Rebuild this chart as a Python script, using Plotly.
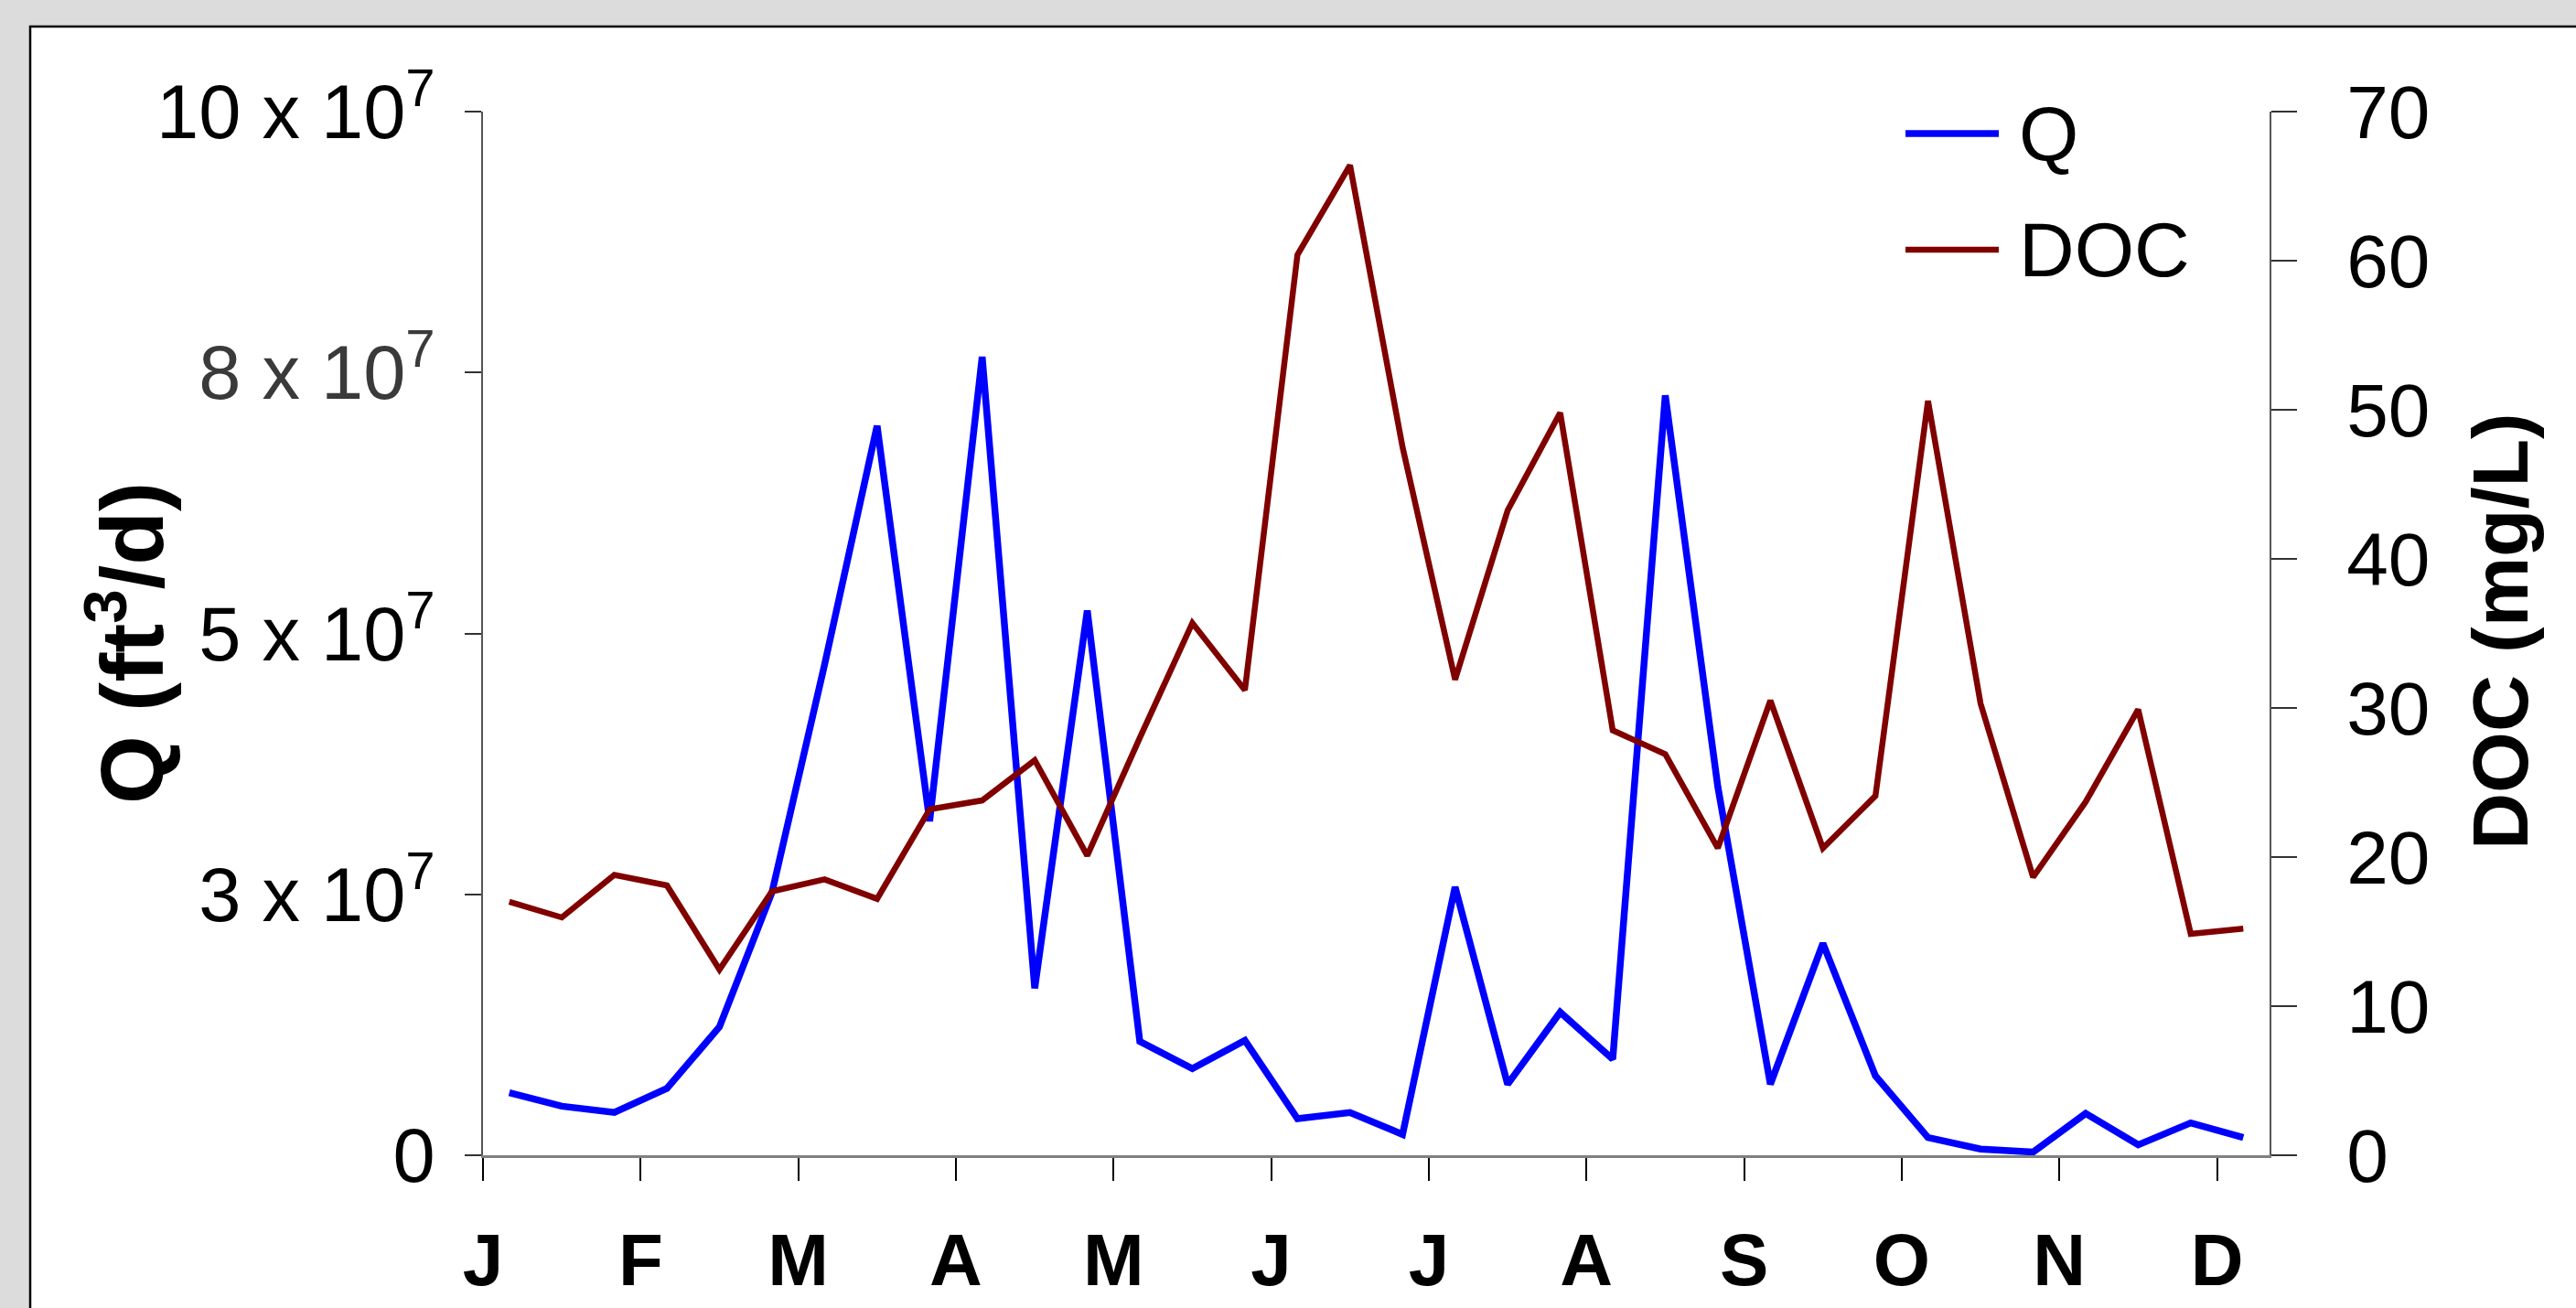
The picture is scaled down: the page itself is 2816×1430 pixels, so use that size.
import plotly.graph_objects as go

# ---- data (sampled every ~10 days: 3 per month, Jan dekad 1 .. Dec dekad 1) ----
dekad = list(range(1, 35))
q_values = [6.0e6, 4.7e6, 4.1e6, 6.4e6, 12.3e6, 25.2e6, 47.0e6, 69.9e6, 32.0e6, 76.5e6,
            16.0e6, 52.2e6, 10.9e6, 8.3e6, 11.0e6, 3.5e6, 4.1e6, 2.0e6, 25.7e6, 6.8e6,
            13.7e6, 9.2e6, 72.8e6, 35.3e6, 6.8e6, 20.3e6, 7.6e6, 1.7e6, 0.6e6, 0.3e6,
            4.0e6, 1.0e6, 3.1e6, 1.7e6]
doc_values = [17.0, 15.95, 18.8, 18.1, 12.45, 17.7, 18.5, 17.2, 23.2, 23.8,
              26.5, 20.1, 28.0, 35.7, 31.2, 60.4, 66.4, 47.5, 31.9, 43.25,
              49.8, 28.5, 26.9, 20.6, 30.5, 20.6, 24.1, 50.6, 30.3, 18.65,
              23.7, 29.9, 14.85, 15.2]
month_labels = ["J", "F", "M", "A", "M", "J", "J", "A", "S", "O", "N", "D"]
month_start_dekad = [3 * i for i in range(12)]
q_tick_values = [0, 2.5e7, 5e7, 7.5e7, 1e8]
q_tick_labels = ["0", "3 x 10<sup>7</sup>", "5 x 10<sup>7</sup>",
                 '<span style="color:#3a3a3a">8 x 10<sup>7</sup></span>', "10 x 10<sup>7</sup>"]

Q_COLOR = "#0000FF"
DOC_COLOR = "#800000"
Q_WIDTH = 7.5
DOC_WIDTH = 6.5
FONT = "Liberation Sans, Arial, sans-serif"

x_mid = [d - 0.5 for d in dekad]  # centre of each 10-day period

fig = go.Figure()
fig.add_trace(go.Scatter(x=x_mid, y=q_values, mode="lines", name="Q",
                         line=dict(color=Q_COLOR, width=Q_WIDTH), yaxis="y"))
fig.add_trace(go.Scatter(x=x_mid, y=doc_values, mode="lines", name="DOC",
                         line=dict(color=DOC_COLOR, width=DOC_WIDTH), yaxis="y2"))

W, H = 2816, 1430
L, R, T, B = 528, 2816 - 2481, 122, 1430 - 1263
pw, ph = W - L - R, H - T - B

def px(x):
    return (x - L) / pw

def py(y):
    return (H - B - y) / ph

shapes = [
    dict(type="rect", xref="paper", yref="paper", x0=px(33), x1=px(2840), y0=py(1450), y1=py(29),
         fillcolor="white", line=dict(color="black", width=2.5), layer="below"),
    dict(type="line", xref="paper", yref="paper", x0=px(2083), x1=px(2185), y0=py(146), y1=py(146),
         line=dict(color=Q_COLOR, width=Q_WIDTH)),
    dict(type="line", xref="paper", yref="paper", x0=px(2083), x1=px(2185), y0=py(273), y1=py(273),
         line=dict(color=DOC_COLOR, width=DOC_WIDTH)),
]

annotations = [
    dict(text="<b>Q (ft<sup>3</sup>/d)</b>", xref="paper", yref="paper", x=px(138), y=py(703),
         textangle=-90, showarrow=False, xanchor="center", yanchor="middle",
         font=dict(family=FONT, size=96, color="black")),
    dict(text="<b>DOC (mg/L)</b>", xref="paper", yref="paper", x=px(2733), y=py(690),
         textangle=-90, showarrow=False, xanchor="center", yanchor="middle",
         font=dict(family=FONT, size=86, color="black")),
    dict(text="Q", xref="paper", yref="paper", x=px(2205), y=py(146), showarrow=False,
         xanchor="left", yanchor="middle", font=dict(family=FONT, size=84, color="black")),
    dict(text="DOC", xref="paper", yref="paper", x=px(2205), y=py(273), showarrow=False,
         xanchor="left", yanchor="middle", font=dict(family=FONT, size=84, color="black")),
]

fig.update_layout(
    width=W, height=H,
    margin=dict(l=L, r=R, t=T, b=B, autoexpand=False),
    paper_bgcolor="#DCDCDC", plot_bgcolor="white",
    showlegend=False,
    font=dict(family=FONT, color="black"),
    shapes=shapes, annotations=annotations,
    xaxis=dict(range=[0, 34], tickmode="array", tickvals=month_start_dekad,
               ticktext=["<b>%s</b>" % m for m in month_labels],
               tickfont=dict(family=FONT, size=80, color="black"),
               ticks="outside", ticklen=25, tickwidth=1.5, tickcolor="black",
               showline=True, linecolor="#808080", linewidth=2.5,
               showgrid=False, zeroline=False, ticklabelstandoff=18),
    yaxis=dict(range=[0, 1e8], tickmode="array", tickvals=q_tick_values, ticktext=q_tick_labels,
               tickfont=dict(family=FONT, size=83, color="black"),
               ticks="outside", ticklen=18, tickwidth=1.5, tickcolor="#333",
               showline=True, linecolor="#555", linewidth=1.5,
               showgrid=False, zeroline=False, ticklabelstandoff=16),
    yaxis2=dict(range=[0, 70], tickmode="linear", tick0=0, dtick=10, overlaying="y", side="right",
                tickfont=dict(family=FONT, size=82, color="black"),
                ticks="outside", ticklen=28, tickwidth=1.5, tickcolor="#333",
                showline=True, linecolor="#555", linewidth=1.5,
                showgrid=False, zeroline=False, ticklabelstandoff=38),
)

fig.write_html("out.html",
               config={"displayModeBar": False},
               post_script="document.body.style.margin='0';document.body.style.padding='0';"
                           "document.body.style.overflow='hidden';")
